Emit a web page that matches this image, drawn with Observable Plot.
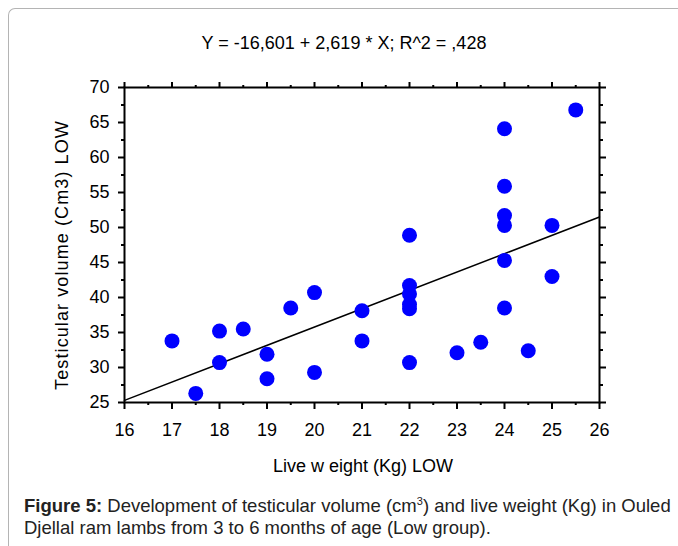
<!DOCTYPE html>
<html><head><meta charset="utf-8">
<script src="https://cdn.jsdelivr.net/npm/d3@7"></script>
<script src="https://cdn.jsdelivr.net/npm/@observablehq/plot@0.6"></script>
<style>
body{margin:0;background:#fff;}
#wrap{position:relative;width:678px;height:546px;overflow:hidden;font-family:"Liberation Sans",Arial,sans-serif;color:#000;}
#border{position:absolute;left:8px;top:8px;width:800px;height:700px;border-left:1.5px solid #b4b4b4;border-top:1.5px solid #b4b4b4;border-top-left-radius:7px;}
#chart{position:absolute;left:0;top:0;}
.lbl{position:absolute;white-space:nowrap;font-size:18px;transform:translate(-50%,-50%);}
#ylab{transform:translate(-50%,-50%) rotate(-90deg);letter-spacing:1.1px;}
#caption{position:absolute;left:24px;top:495px;font-size:18.5px;line-height:22px;color:#222;white-space:nowrap;}
</style></head>
<body>
<div id="wrap">
  <div id="border"></div>
  <div id="chart"></div>
  <div class="lbl" id="title" style="left:344px;top:43px;">Y = -16,601 + 2,619 * X; R^2 = ,428</div>
  <div class="lbl" id="ylab" style="left:62px;top:255px;">Testicular volume (Cm3) LOW</div>
  <div class="lbl" id="xlab" style="left:363px;top:466px;">Live w eight (Kg) LOW</div>
  <div id="caption"><b>Figure 5:</b> Development of testicular volume (cm<sup style="font-size:11px;vertical-align:7px;line-height:0">3</sup>) and live weight (Kg) in Ouled<br>Djellal ram lambs from 3 to 6 months of age (Low group).</div>
</div>
<script>
// Live weight (Kg) and testicular volume (cm3)
const weight = [17, 17.5, 18, 18, 18.5, 19, 19, 19.5, 20, 20, 21, 21, 22, 22, 22, 22, 22, 22, 23, 23.5, 24, 24, 24, 24, 24, 24, 24.5, 25, 25, 25.5];
const volume = [33.8, 26.3, 35.2, 30.7, 35.5, 31.9, 28.4, 38.5, 40.7, 29.3, 38.1, 33.8, 48.9, 41.7, 40.5, 39.0, 38.4, 30.7, 32.1, 33.6, 64.1, 55.9, 51.7, 50.3, 45.3, 38.5, 32.4, 50.3, 43.0, 66.8];
// Regression line endpoints (Y = -16.601 + 2.619 X)
const fitX = [16, 26];
const fitY = [25.3, 51.5];
// Ticks
const xMajor = [16, 17, 18, 19, 20, 21, 22, 23, 24, 25, 26];
const xMinor = [16.5, 17.5, 18.5, 19.5, 20.5, 21.5, 22.5, 23.5, 24.5, 25.5];
const yMajor = [25, 30, 35, 40, 45, 50, 55, 60, 65, 70];
const yMinor = [27.5, 32.5, 37.5, 42.5, 47.5, 52.5, 57.5, 62.5, 67.5];

const points = weight.map((w, i) => ({w, v: volume[i]}));
const fit = fitX.map((x, i) => ({x, y: fitY[i]}));

const chart = Plot.plot({
  width: 678, height: 480,
  marginLeft: 124, marginRight: 79, marginTop: 87, marginBottom: 78,
  x: {domain: [16, 26]},
  y: {domain: [25, 70]},
  style: {fontFamily: "Liberation Sans, Arial, sans-serif", fontSize: "18px", color: "#000", background: "transparent", overflow: "visible"},
  marks: [
    Plot.line(fit, {x: "x", y: "y", stroke: "#000", strokeWidth: 1.5}),
    Plot.dot(points, {x: "w", y: "v", r: 7.5, fill: "#0000ff"}),
    Plot.frame({stroke: "#000", strokeWidth: 2}),
    Plot.axisX(xMajor, {anchor: "bottom", tickSize: 7, strokeWidth: 2, tickPadding: 14, fontSize: 18, label: null}),
    Plot.axisX(xMinor, {anchor: "bottom", tickSize: 3, strokeWidth: 2, fill: "none", label: null}),
    Plot.axisX(xMajor, {anchor: "top", tickSize: 6, strokeWidth: 2, fill: "none", label: null}),
    Plot.axisX(xMinor, {anchor: "top", tickSize: 3, strokeWidth: 2, fill: "none", label: null}),
    Plot.axisY(yMajor, {anchor: "left", tickSize: 6, strokeWidth: 2, tickPadding: 9, fontSize: 18, label: null}),
    Plot.axisY(yMinor, {anchor: "left", tickSize: 3, strokeWidth: 2, fill: "none", label: null}),
    Plot.axisY(yMajor, {anchor: "right", tickSize: 6, strokeWidth: 2, fill: "none", label: null}),
    Plot.axisY(yMinor, {anchor: "right", tickSize: 3, strokeWidth: 2, fill: "none", label: null})
  ]
});
document.getElementById("chart").appendChild(chart);
</script>
</body></html>
